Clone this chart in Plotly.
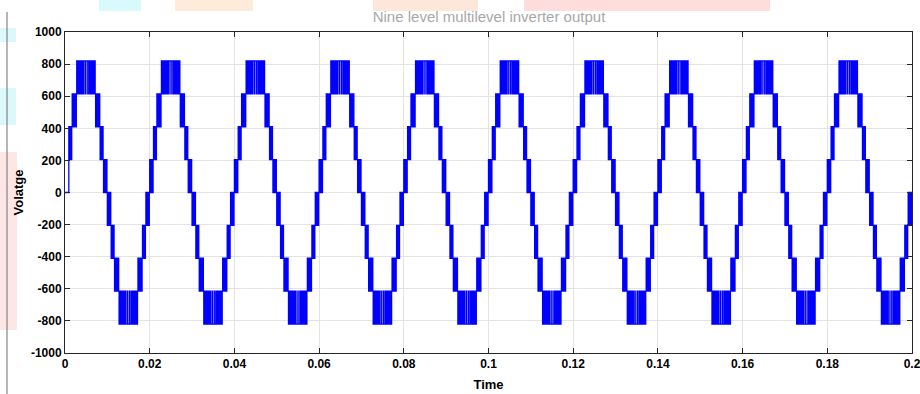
import numpy as np
import plotly.graph_objects as go

# ---------------- data ----------------
period = 0.02          # fundamental period (s) -> 50 Hz
n_cycles = 10
# switching bands within one positive half-cycle (times from the zero crossing, s)
band_start = [0.0000, 0.0009, 0.0017, 0.00277, 0.0056, 0.00723, 0.0083, 0.0091]
band_end   = [0.0009, 0.0017, 0.00277, 0.0045, 0.00723, 0.0083, 0.0091, 0.0100]
band_low   = [0, 205, 410, 615, 615, 410, 205, 0]
band_high  = [205, 410, 615, 820, 820, 615, 410, 205]
band_rising = [True, True, True, True, False, False, False, False]
peak_level = 820
peak_dips = [0.00478, 0.00522]           # narrow dips in the gap at the crest
switch_step = 0.00011                    # spacing of switching edges inside a band

x_tick_vals = [0, 0.02, 0.04, 0.06, 0.08, 0.1, 0.12, 0.14, 0.16, 0.18, 0.2]
x_tick_text = ["0", "0.02", "0.04", "0.06", "0.08", "0.1", "0.12", "0.14", "0.16", "0.18", "0.2"]
y_tick_vals = [-1000, -800, -600, -400, -200, 0, 200, 400, 600, 800, 1000]
y_tick_text = ["-1000", "-800", "-600", "-400", "-200", "0", "200", "400", "600", "800", "1000"]

# ---------------- build the step waveform ----------------
t_pts = [0.0]
v_pts = [0.0]
for c in range(n_cycles):
    for half, sign in ((0, 1), (1, -1)):
        t0 = c * period + half * period / 2
        for i, (s, e, lo, hi, up) in enumerate(zip(band_start, band_end, band_low, band_high, band_rising)):
            if c == 0 and half == 0 and i == 0:
                t_pts.append(t0 + e)
                v_pts.append(sign * hi)
                continue
            n = int(round((e - s) / switch_step))
            if n % 2 == 0:
                n += 1
            first = hi if up else lo
            second = lo if up else hi
            for k in range(n):
                t_pts.append(t0 + s + k * (e - s) / n)
                v_pts.append(sign * (first if k % 2 == 0 else second))
            if i == 3:
                for d in peak_dips:
                    t_pts.append(t0 + d)
                    v_pts.append(sign * 615)
                    t_pts.append(t0 + d + 0.00003)
                    v_pts.append(sign * peak_level)
t_pts.append(n_cycles * period)
v_pts.append(0.0)

fig = go.Figure()
fig.add_trace(go.Scatter(
    x=np.array(t_pts), y=np.array(v_pts), mode="lines",
    line=dict(color="#0000FF", width=1.3, shape="hv"),
    showlegend=False, hoverinfo="skip"))

# ---------------- layout ----------------
L, R, T, B = 65, 8, 32, 41
W, H = 920, 394
pw, ph = W - L - R, H - T - B


def px(x):
    return (x - L) / pw


def py(y):
    return (H - B - y) / ph


shapes = []
for (x0, x1, y0, y1, col) in [
    (99, 141, 0, 11, "#D8FAFC"),
    (175, 253, 0, 11, "#FEEBDC"),
    (373, 478, 0, 11, "#FDE6DA"),
    (524, 770, 0, 11, "#FDDEDC"),
    (0, 16, 28, 42, "#DDF8FA"),
    (0, 16, 88, 125, "#DDF8FA"),
    (0, 17, 152, 330, "#FDE6E6"),
]:
    shapes.append(dict(type="rect", xref="paper", yref="paper",
                       x0=px(x0), x1=px(x1), y0=py(y1), y1=py(y0),
                       line=dict(width=0), fillcolor=col, layer="below"))
shapes.append(dict(type="line", xref="paper", yref="paper",
                   x0=px(7), x1=px(7), y0=py(394), y1=py(12),
                   line=dict(color="#6E6E6E", width=1)))

font_family = "Liberation Sans, Arial, sans-serif"
fig.update_layout(
    width=W, height=H,
    margin=dict(l=L, r=R, t=T, b=B, autoexpand=False),
    paper_bgcolor="white", plot_bgcolor="white",
    font=dict(family=font_family, color="#000000", size=12),
    title=dict(text="Nine level multilevel inverter output",
               xref="container", x=489 / W, xanchor="center",
               yref="container", y=(H - 17) / H, yanchor="middle",
               font=dict(family=font_family, size=15, color="#A8A8A8")),
    shapes=shapes,
)
axis_common = dict(
    showline=True, linecolor="#262626", linewidth=1, mirror="allticks",
    ticks="inside", ticklen=5, tickcolor="#262626", tickwidth=1,
    showgrid=True, gridcolor="#E3E3E3", gridwidth=1, zeroline=False,
    ticklabeloverflow="allow",
    tickfont=dict(family=font_family, size=12, color="#000000", weight="bold"),
)
fig.update_xaxes(range=[-1e-6, 0.2 + 1e-6], tickvals=x_tick_vals, ticktext=x_tick_text,
                 title=dict(text="<b>Time</b>", standoff=9,
                            font=dict(family=font_family, size=13)),
                 **axis_common)
fig.update_yaxes(range=[-1000.5, 1000.5], tickvals=y_tick_vals, ticktext=y_tick_text,
                 title=dict(text="<b>Volatge</b>", standoff=4,
                            font=dict(family=font_family, size=13)),
                 **axis_common)

fig.write_html("out.html",
               config={"displayModeBar": False, "staticPlot": True},
               post_script="document.body.style.margin='0px';document.body.style.overflow='hidden';")
